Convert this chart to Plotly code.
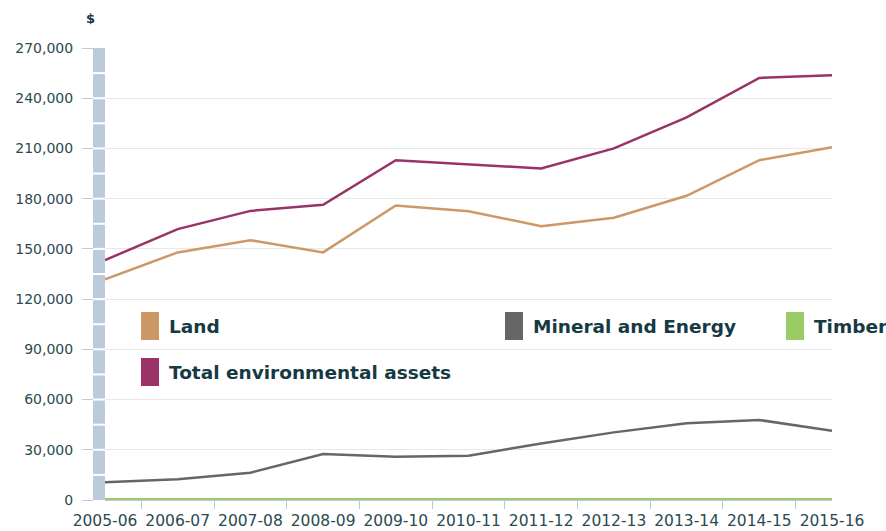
import plotly.graph_objects as go

years = ["2005-06", "2006-07", "2007-08", "2008-09", "2009-10", "2010-11",
         "2011-12", "2012-13", "2013-14", "2014-15", "2015-16"]
land = [131800, 147900, 155200, 147900, 175900, 172500, 163600, 168600, 181700, 203000, 210700]
mineral = [10600, 12400, 16300, 27500, 25900, 26500, 33800, 40400, 45800, 47800, 41400]
timber = [400, 400, 400, 400, 400, 400, 400, 400, 400, 400, 400]
total = [143300, 161800, 172700, 176300, 203000, 200400, 198000, 210000, 228500, 252100, 253700]

series_names = ["Land", "Mineral and Energy", "Timber", "Total environmental assets"]
series_values = [land, mineral, timber, total]
series_colors = ["#CC9966", "#666666", "#99CC66", "#993366"]

W, H = 886, 531
ML, MR, MT, MB = 83, 54, 48, 31
PW, PH = W - ML - MR, H - MT - MB


def px(x):
    return (x - ML) / PW


def py(y):
    return (H - MB - y) / PH


TEXT = "#163a43"
TICK_TEXT = "#2c4a50"
AXIS_BLUE = "#bccbdc"

fig = go.Figure()
for name, vals, col in zip(series_names, series_values, series_colors):
    fig.add_trace(go.Scatter(x=years, y=vals, name=name, mode="lines",
                             line=dict(color=col, width=2.5), showlegend=False))

ymax = 270000
ystep = 30000

shapes = []
# vertical axis band
shapes.append(dict(type="rect", xref="paper", yref="y", x0=px(93), x1=px(105),
                   y0=0, y1=ymax, fillcolor=AXIS_BLUE, line=dict(width=0), layer="below"))
for v in range(ystep // 2, ymax, ystep // 2):
    shapes.append(dict(type="line", xref="paper", yref="y", x0=px(93), x1=px(105),
                       y0=v, y1=v, line=dict(color="white", width=2)))

# legend (manual, tall swatches)
legend_pos = [(141, 312), (505, 312), (786, 312), (141, 358)]
annotations = []
for (lx, ly), name, col in zip(legend_pos, series_names, series_colors):
    shapes.append(dict(type="rect", xref="paper", yref="paper",
                       x0=px(lx), x1=px(lx + 18), y0=py(ly + 28), y1=py(ly),
                       fillcolor=col, line=dict(width=0)))
    annotations.append(dict(xref="paper", yref="paper", x=px(lx + 26), y=py(ly + 14),
                            text="<b>" + name + "</b>", showarrow=False,
                            xanchor="left", yanchor="middle",
                            font=dict(family="DejaVu Sans", size=18.5, color=TEXT)))

annotations.append(dict(xref="paper", yref="paper", x=px(90), y=py(18), text="<b>$</b>",
                        showarrow=False, xanchor="center", yanchor="middle",
                        font=dict(family="DejaVu Sans", size=13, color=TEXT)))

fig.update_layout(
    width=W, height=H,
    margin=dict(l=ML, r=MR, t=MT, b=MB, autoexpand=False),
    paper_bgcolor="white", plot_bgcolor="white",
    shapes=shapes, annotations=annotations,
    xaxis=dict(type="category", domain=[px(105), 1], range=[0, len(years) - 1],
               tickson="boundaries", ticks="outside", ticklen=8, tickcolor=AXIS_BLUE,
               showgrid=False, showline=True, linecolor=AXIS_BLUE, linewidth=1,
               ticklabelstandoff=6,
               tickfont=dict(family="DejaVu Sans", size=15.5, color=TICK_TEXT),
               automargin=False, tickangle=0),
    yaxis=dict(range=[0, ymax], dtick=ystep, tick0=0, anchor="free", position=px(93),
               ticks="outside", ticklen=11, tickcolor=AXIS_BLUE, tickformat=",",
               showgrid=True, gridcolor="#e8e8e8", gridwidth=1, zeroline=False,
               showline=False, ticklabelstandoff=6,
               tickfont=dict(family="DejaVu Sans", size=14, color=TICK_TEXT),
               automargin=False),
)

fig.write_html("out.html", config={"displayModeBar": False},
               post_script="document.body.style.margin='0';document.body.style.overflow='hidden';")
